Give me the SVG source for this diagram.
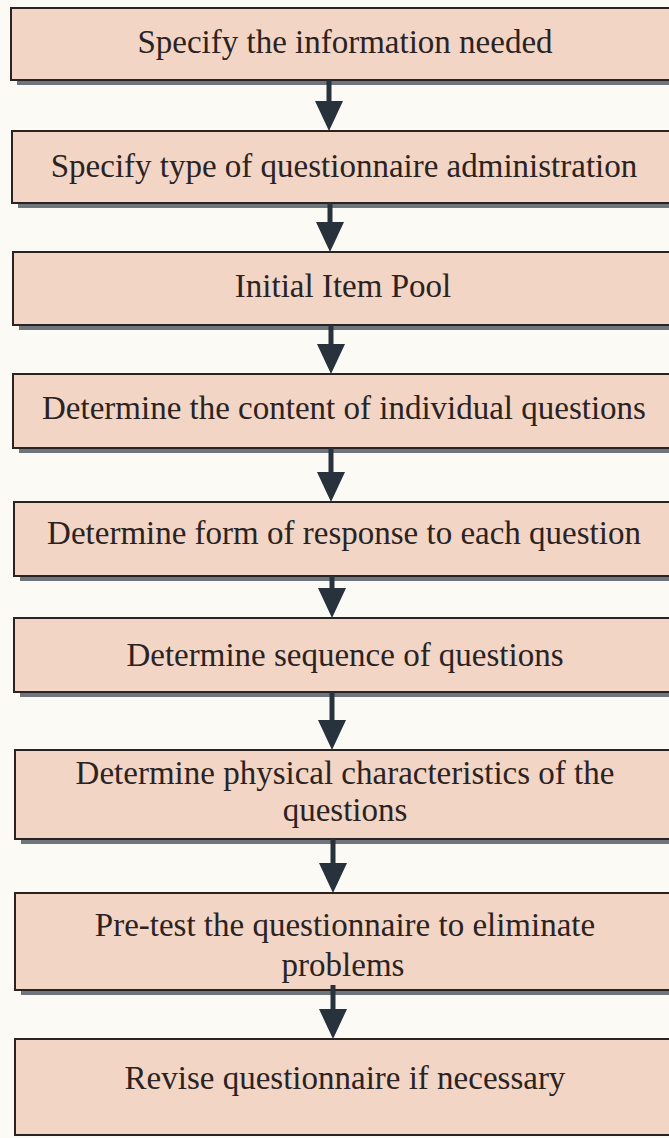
<svg xmlns="http://www.w3.org/2000/svg" width="669" height="1138" viewBox="0 0 669 1138">
  <defs>
    <style>
      .bg { fill: #fcfaf5; }
      .box { fill: #f3d5c6; stroke: #2b2322; stroke-width: 2; }
      .shadow { fill: #6f757d; }
      .label { fill: #2a2322; text-anchor: middle; }
      .shaft { stroke: #27323d; stroke-width: 5; }
      .head { fill: #27323d; }
    </style>
  </defs>

  <rect class="bg" x="0" y="0" width="669" height="1138"/>

  <!-- process steps -->
  <g font-family="Liberation Serif, Times New Roman, serif" font-size="33">
  <g id="step1">
    <rect class="shadow" x="17" y="80" width="670" height="5"/>
    <rect class="box" x="11" y="8" width="676" height="72"/>
    <text class="label" x="345" y="53">Specify the information needed</text>
  </g>
  <g id="step2">
    <rect class="shadow" x="18" y="203" width="670" height="5"/>
    <rect class="box" x="12" y="131" width="676" height="72"/>
    <text class="label" x="344" y="177">Specify type of questionnaire administration</text>
  </g>
  <g id="step3">
    <rect class="shadow" x="19" y="325" width="670" height="5"/>
    <rect class="box" x="13" y="252" width="676" height="73"/>
    <text class="label" x="343" y="297">Initial Item Pool</text>
  </g>
  <g id="step4">
    <rect class="shadow" x="19" y="448" width="670" height="5"/>
    <rect class="box" x="13" y="374" width="676" height="74"/>
    <text class="label" x="344" y="419">Determine the content of individual questions</text>
  </g>
  <g id="step5">
    <rect class="shadow" x="20" y="576" width="670" height="5"/>
    <rect class="box" x="14" y="502" width="676" height="74"/>
    <text class="label" x="344" y="544">Determine form of response to each question</text>
  </g>
  <g id="step6">
    <rect class="shadow" x="20" y="692" width="670" height="5"/>
    <rect class="box" x="14" y="618" width="676" height="74"/>
    <text class="label" x="345" y="666">Determine sequence of questions</text>
  </g>
  <g id="step7">
    <rect class="shadow" x="21" y="839" width="670" height="5"/>
    <rect class="box" x="15" y="750" width="676" height="89"/>
    <text class="label" x="345" y="784">Determine physical characteristics of the</text>
    <text class="label" x="345" y="821">questions</text>
  </g>
  <g id="step8">
    <rect class="shadow" x="21" y="990" width="670" height="5"/>
    <rect class="box" x="15" y="893" width="676" height="97"/>
    <text class="label" x="345" y="936">Pre-test the questionnaire to eliminate</text>
    <text class="label" x="343" y="976">problems</text>
  </g>
  <g id="step9">
    <rect class="box" x="15" y="1039" width="676" height="96"/>
    <text class="label" x="345" y="1089">Revise questionnaire if necessary</text>
  </g>
  </g>

  <!-- connectors: shaft plus triangular head touching the next box -->
  <g id="connectors">
    <line class="shaft" x1="329" y1="80" x2="329" y2="102"/>
    <polygon class="head" points="315,101 343,101 329,131"/>

    <line class="shaft" x1="330" y1="203" x2="330" y2="223"/>
    <polygon class="head" points="316,222 344,222 330,252"/>

    <line class="shaft" x1="331" y1="325" x2="331" y2="345"/>
    <polygon class="head" points="317,344 345,344 331,374"/>

    <line class="shaft" x1="331" y1="448" x2="331" y2="473"/>
    <polygon class="head" points="317,472 345,472 331,502"/>

    <line class="shaft" x1="332" y1="576" x2="332" y2="589"/>
    <polygon class="head" points="318,588 346,588 332,618"/>

    <line class="shaft" x1="332" y1="692" x2="332" y2="721"/>
    <polygon class="head" points="318,720 346,720 332,750"/>

    <line class="shaft" x1="333" y1="839" x2="333" y2="864"/>
    <polygon class="head" points="319,863 347,863 333,893"/>

    <line class="shaft" x1="333" y1="985" x2="333" y2="1010"/>
    <polygon class="head" points="319,1009 347,1009 333,1039"/>
  </g>
</svg>
